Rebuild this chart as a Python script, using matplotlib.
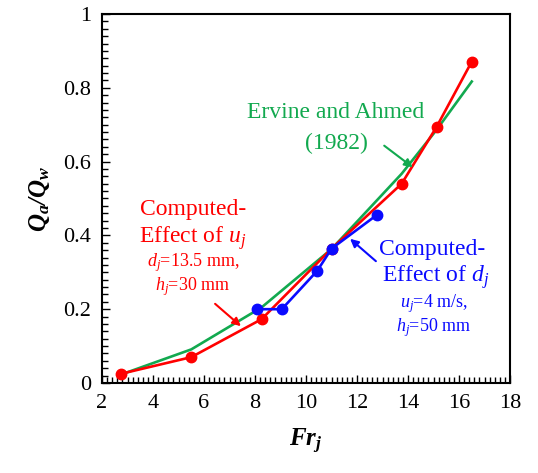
import matplotlib
matplotlib.use("Agg")
import matplotlib.pyplot as plt
from matplotlib.ticker import MultipleLocator

plt.rcParams['font.family'] = ['Liberation Serif', 'DejaVu Serif']
plt.rcParams['mathtext.fontset'] = 'custom'
plt.rcParams['mathtext.rm'] = 'Liberation Serif'
plt.rcParams['mathtext.it'] = 'Liberation Serif:italic'
plt.rcParams['mathtext.bf'] = 'Liberation Serif:bold:italic'

# Data
fr_uj = [2.75, 5.5, 8.26, 11.0, 13.75, 15.12, 16.5]
qa_uj = [0.025, 0.07, 0.173, 0.364, 0.54, 0.694, 0.871]

fr_dj = [8.07, 9.05, 10.44, 11.0, 12.77]
qa_dj = [0.2, 0.2, 0.304, 0.364, 0.455]

fr_ea = [2.75, 5.5, 8.26, 11.0, 13.75, 15.12, 16.5]
qa_ea = [0.023, 0.091, 0.205, 0.363, 0.567, 0.686, 0.817]

RED = '#ff0000'
BLUE = '#0a0aff'
GREEN = '#12a94f'

fig = plt.figure(figsize=(5.38, 4.73), dpi=100)
ax = fig.add_axes([0.1896, 0.1903, 0.7584, 0.7801])

ax.plot(fr_ea, qa_ea, color=GREEN, lw=1.9, zorder=2)
ax.plot(fr_uj, qa_uj, color=RED, lw=1.9, marker='o', ms=7.5, zorder=3)
ax.plot(fr_dj, qa_dj, color=BLUE, lw=1.9, marker='o', ms=7.5, zorder=4)

ax.set_xlim(2, 18)
ax.set_ylim(0, 1)
ax.xaxis.set_major_locator(MultipleLocator(2))
ax.xaxis.set_minor_locator(MultipleLocator(0.2))
ax.yaxis.set_minor_locator(MultipleLocator(0.02))
ax.set_yticks([0, 0.2, 0.4, 0.6, 0.8, 1.0])
ax.set_yticklabels(['0', '0.2', '0.4', '0.6', '0.8', '1'])
ax.tick_params(which='both', direction='in', top=False, right=False, labelsize=16, width=1)
ax.tick_params(which='major', length=6, pad=8)
ax.tick_params(which='minor', length=4)
for s in ax.spines.values():
    s.set_linewidth(1.5)

ax.set_xlabel(r'$\mathbf{Fr_j}$', fontsize=18, labelpad=10)
ax.set_ylabel(r'$\mathbf{Q_a/Q_w}$', fontsize=18, labelpad=8)

def px(x, y):
    return (x / 538, 1 - y / 473)

fig.text(*px(336, 112), 'Ervine and Ahmed', color=GREEN, fontsize=17, ha='center', va='center')
fig.text(*px(336, 143), '(1982)', color=GREEN, fontsize=17, ha='center', va='center')
ax.annotate('', xy=px(415, 169), xycoords='figure fraction', xytext=px(382, 144),
            textcoords='figure fraction',
            arrowprops=dict(arrowstyle='-|>', color=GREEN, lw=1.5, mutation_scale=12))

fig.text(*px(193, 210), 'Computed-', color=RED, fontsize=17, ha='center', va='center')
fig.text(*px(193, 238), r'Effect of $u_j$', color=RED, fontsize=17, ha='center', va='center')
fig.text(*px(193, 263), r'$d_j$=13.5 mm,', color=RED, fontsize=13, ha='center', va='center')
fig.text(*px(193, 287), r'$h_j$=30 mm', color=RED, fontsize=13, ha='center', va='center')
ax.annotate('', xy=px(243, 328), xycoords='figure fraction', xytext=px(213, 302),
            textcoords='figure fraction',
            arrowprops=dict(arrowstyle='-|>', color=RED, lw=1.5, mutation_scale=12))

fig.text(*px(432, 250), 'Computed-', color=BLUE, fontsize=17, ha='center', va='center')
fig.text(*px(436, 277), r'Effect of $d_j$', color=BLUE, fontsize=17, ha='center', va='center')
fig.text(*px(434, 304), r'$u_j$=4 m/s,', color=BLUE, fontsize=13, ha='center', va='center')
fig.text(*px(434, 328), r'$h_j$=50 mm', color=BLUE, fontsize=13, ha='center', va='center')
ax.annotate('', xy=px(348, 237), xycoords='figure fraction', xytext=px(378, 263),
            textcoords='figure fraction',
            arrowprops=dict(arrowstyle='-|>', color=BLUE, lw=1.5, mutation_scale=12))

fig.savefig('out.png', dpi=100)
